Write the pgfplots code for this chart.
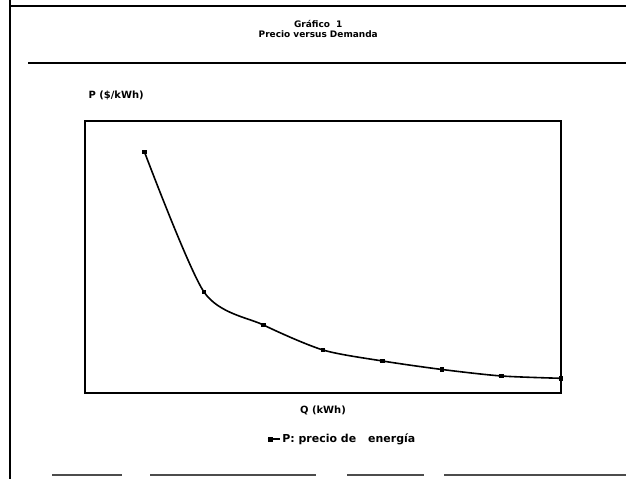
\documentclass[border=0pt]{standalone}
\usepackage{pgfplots}
\pgfplotsset{compat=1.18}
\usepackage{fontspec}
\setmainfont{DejaVu Sans}
\begin{document}
\begin{tikzpicture}
\path[use as bounding box] (0bp,0bp) rectangle (626bp,479bp);
% outer frame
\draw[line width=2.2bp] (10bp,479bp) -- (10bp,0bp);
\draw[line width=1.6bp] (10bp,473bp) -- (626bp,473bp);
\draw[line width=1.4bp] (28bp,416bp) -- (626bp,416bp);
\draw[line width=1.2bp,black!70] (52bp,4bp) -- (122bp,4bp) (150bp,4bp) -- (316bp,4bp) (347bp,4bp) -- (424bp,4bp) (444bp,4bp) -- (626bp,4bp);
\begin{axis}[
  at={(85bp,86bp)}, anchor=south west,
  width=476bp, height=272bp, scale only axis,
  xmin=0, xmax=8, ymin=0, ymax=272,
  xtick=\empty, ytick=\empty,
  axis line style={line width=1.3bp},
  font=\fontsize{10}{12}\selectfont\bfseries,
  title={Gráfico\ \ 1\\[-1pt]Precio versus Demanda},
  title style={align=center, at={(axis description cs:0.49,1.315)}, anchor=center, font=\fontsize{9}{11}\selectfont\bfseries},
  xlabel={Q (kWh)},
  xlabel style={at={(axis description cs:0.5,-0.0625)}, anchor=center},
  ylabel={P (\$/kWh)},
  ylabel style={rotate=-90, at={(axis description cs:0,1.095)}, anchor=west},
  legend style={draw=none, at={(axis description cs:0.54,-0.17)}, anchor=center, font=\fontsize{11}{13}\selectfont\bfseries, inner sep=0pt},
  legend image code/.code={\draw[#1] (0bp,0bp) -- (12bp,0bp); \draw[#1, only marks] plot coordinates {(3bp,0bp)};},
]
\addplot[black, line width=1.6bp, smooth, tension=0.45, mark=square*, mark size=1.6bp] coordinates {
(1,241) (2,101) (3,68) (4,43) (5,32) (6,23.5) (7,17) (8,14.7)
};
\addlegendentry{P: precio de\hspace{12bp}energía}
\end{axis}
\end{tikzpicture}
\end{document}
